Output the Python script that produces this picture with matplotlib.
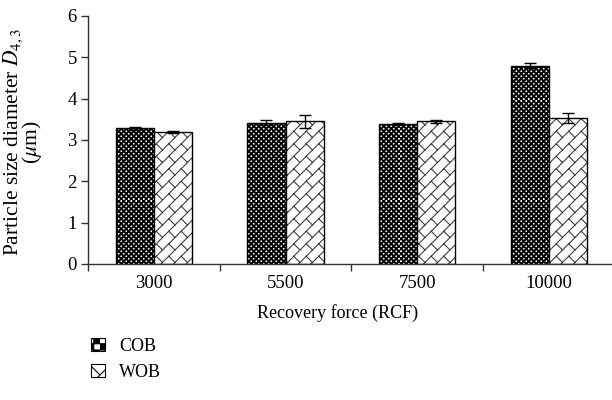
import warnings
warnings.filterwarnings('ignore')
import numpy as np
import matplotlib
matplotlib.use('Agg')
import matplotlib.pyplot as plt
from matplotlib import hatch as mhatch
from matplotlib.path import Path
from matplotlib.patches import Patch

# ---------------- data ----------------
categories = ['3000', '5500', '7500', '10000']
cob = [3.28, 3.42, 3.39, 4.80]
cob_err = [0.03, 0.06, 0.02, 0.07]
wob = [3.20, 3.45, 3.45, 3.53]
wob_err = [0.02, 0.16, 0.03, 0.13]
series_names = ['COB', 'WOB']
yticks = [0, 1, 2, 3, 4, 5, 6]
xlabel = 'Recovery force (RCF)'
ylabel = 'Particle size diameter $D_{4,3}$\n($\\mu$m)'


# ---------------- custom hatches ----------------
def clip_seg(p0, p1):
    x0, y0 = p0
    x1, y1 = p1
    dx, dy = x1 - x0, y1 - y0
    t0, t1 = 0.0, 1.0
    for p, q in ((-dx, x0), (dx, 1 - x0), (-dy, y0), (dy, 1 - y0)):
        if p == 0:
            if q < 0:
                return None
        else:
            t = q / p
            if p < 0:
                if t > t1:
                    return None
                t0 = max(t0, t)
            else:
                if t < t0:
                    return None
                t1 = min(t1, t)
    if t1 - t0 < 1e-9:
        return None
    return (x0 + t0 * dx, y0 + t0 * dy), (x0 + t1 * dx, y0 + t1 * dy)


class CheckerHatch(mhatch.HatchPatternBase):
    def __init__(self, hatch, density):
        m = 4 * hatch.count('k')
        self.cells = []
        if m:
            s = 1.0 / m
            for i in range(m):
                for j in range(m):
                    if (i + j) % 2 == 0:
                        self.cells.append((i * s, j * s, s))
        self.num_vertices = 5 * len(self.cells)

    def set_vertices_and_codes(self, vertices, codes):
        for n, (x, y, s) in enumerate(self.cells):
            vertices[5 * n:5 * n + 5] = [(x, y), (x + s, y), (x + s, y + s),
                                         (x, y + s), (x, y)]
            codes[5 * n:5 * n + 5] = [Path.MOVETO, Path.LINETO, Path.LINETO,
                                      Path.LINETO, Path.CLOSEPOLY]


class BrickHatch(mhatch.HatchPatternBase):
    def __init__(self, hatch, density):
        n = 2 * hatch.count('b')
        segs = []
        if n:
            for k in range(-2 * n, 3 * n):
                c = k / n
                r = clip_seg((-3, -3 + c), (4, 4 + c))
                if r:
                    segs.append(r)
                c2 = (k + 1) / n
                off = (k % 2) / n
                for j in range(-3 * n, 4 * n):
                    d = j * 2 / n + off
                    p0 = ((d - c) / 2, (d + c) / 2)
                    p1 = ((d - c2) / 2, (d + c2) / 2)
                    r = clip_seg(p0, p1)
                    if r:
                        segs.append(r)
        self.segs = segs
        self.num_vertices = 2 * len(segs)

    def set_vertices_and_codes(self, vertices, codes):
        for i, (a, b) in enumerate(self.segs):
            vertices[2 * i] = a
            vertices[2 * i + 1] = b
            codes[2 * i] = Path.MOVETO
            codes[2 * i + 1] = Path.LINETO


mhatch._hatch_types.extend([CheckerHatch, BrickHatch])

# ---------------- style ----------------
plt.rcParams['font.family'] = ['Liberation Serif', 'DejaVu Serif']
plt.rcParams['mathtext.fontset'] = 'stix'
plt.rcParams['hatch.linewidth'] = 0.8

fig = plt.figure(figsize=(6.12, 4.0), dpi=100)
ax = fig.add_axes([88 / 612, 136 / 400, 526.8 / 612, 248 / 400])

x = np.arange(1, len(categories) + 1)
w = 0.29

b1 = ax.bar(x - w / 2, cob, w, facecolor='white', edgecolor='black',
            linewidth=1.0, hatch='k' * 10, zorder=2)
b2 = ax.bar(x + w / 2, wob, w, facecolor='white', edgecolor='black',
            linewidth=1.0, hatch='b' * 4, zorder=2)
for p in b1:
    if hasattr(p, 'set_hatch_linewidth'):
        p.set_hatch_linewidth(0.6)
for p in b2:
    if hasattr(p, 'set_hatch_linewidth'):
        p.set_hatch_linewidth(0.8)
    p._hatch_color = (0.25, 0.25, 0.25, 1.0)

ax.errorbar(x - w / 2, cob, yerr=cob_err, fmt='none', ecolor='black',
            elinewidth=1.0, capsize=4, capthick=1.0, zorder=3)
ax.errorbar(x + w / 2, wob, yerr=wob_err, fmt='none', ecolor='black',
            elinewidth=1.0, capsize=4, capthick=1.0, zorder=3)

ax.set_xlim(0.5, len(categories) + 0.5)
ax.set_ylim(yticks[0], yticks[-1])
ax.set_yticks(yticks)
ax.set_xticks(np.arange(0.5, len(categories) + 0.5, 1.0))
ax.set_xticklabels([])
ax.set_xticks(x, minor=True)
ax.set_xticklabels(categories, minor=True)
ax.tick_params(axis='x', which='minor', length=0, pad=8, labelsize=13.5)
ax.tick_params(axis='x', which='major', length=5, width=1.0, direction='out',
               color='#333333')
ax.tick_params(axis='y', length=5, width=1.0, direction='out', labelsize=13.5,
               color='#333333', pad=3)
for s in ['top', 'right']:
    ax.spines[s].set_visible(False)
for s in ['left', 'bottom']:
    ax.spines[s].set_linewidth(1.0)
    ax.spines[s].set_color('#333333')

ax.set_xlabel(xlabel, fontsize=13)
ax.xaxis.set_label_coords((338 - 88) / 526.8, -(304 - 264) / 248)
ax.set_ylabel(ylabel, fontsize=15.5, linespacing=0.72)
ax.yaxis.set_label_coords(-(88 - 44) / 526.8, 0.49)

handles = [Patch(facecolor='white', edgecolor='black', linewidth=0.8, hatch='k' * 4),
           Patch(facecolor='white', edgecolor='black', linewidth=0.8, hatch='b' * 2)]
fig.legend(handles, series_names, loc='upper left',
           bbox_to_anchor=(91 / 612, 1 - 338 / 400), frameon=False,
           borderpad=0, borderaxespad=0, handlelength=0.75, handleheight=0.75,
           handletextpad=0.8, labelspacing=0.5, fontsize=13)

fig.savefig('out.png', dpi=100)
